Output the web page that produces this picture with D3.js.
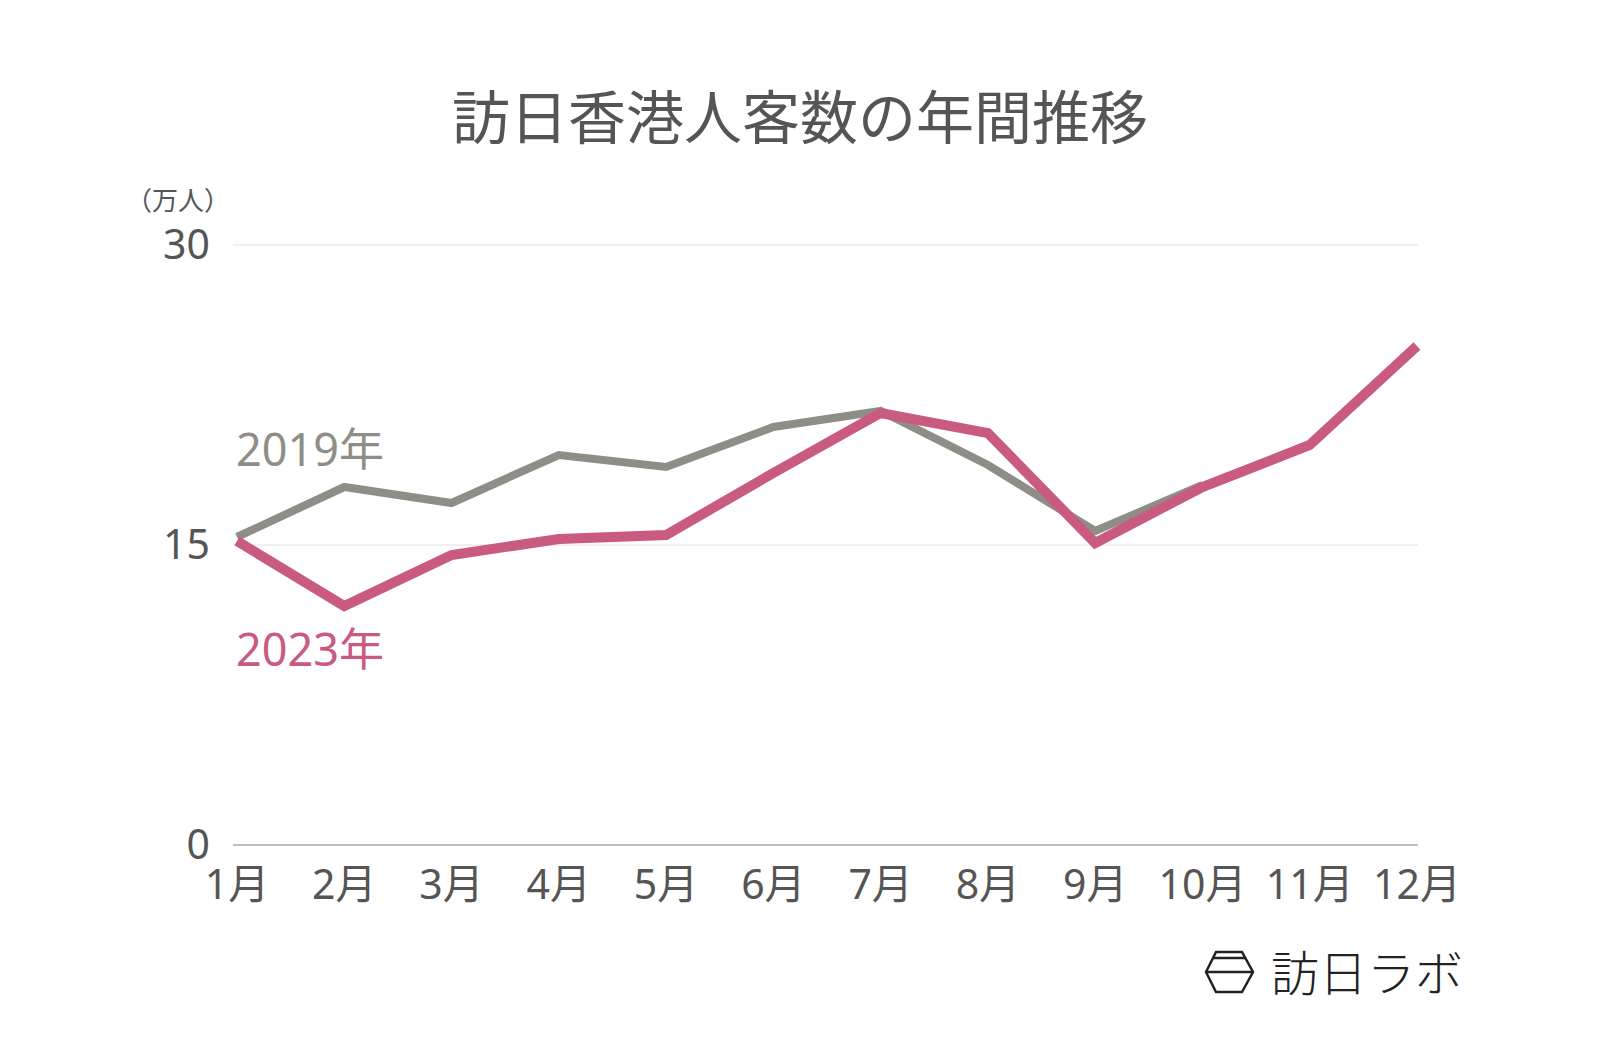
<!DOCTYPE html>
<html>
<head>
<meta charset="utf-8">
<script src="https://cdn.jsdelivr.net/npm/d3@7"></script>
<style>
  html, body { margin: 0; padding: 0; background: #fff; }
  svg { display: block; }
  text { font-family: "Noto Sans", "Noto Sans CJK JP", sans-serif; }
</style>
</head>
<body>
<script>
// data (万人)
const months = ['1月', '2月', '3月', '4月', '5月', '6月', '7月', '8月', '9月', '10月', '11月', '12月'];
const values2019 = [15.4, 17.9, 17.1, 19.5, 18.9, 20.9, 21.7, 19.0, 15.7, 18.0];
const values2023 = [15.2, 11.95, 14.5, 15.3, 15.5, 18.6, 21.6, 20.6, 15.1, 17.9, 20.0, 24.95];
const yTicks = [0, 15, 30];

const width = 1600,
    height = 1048;

const svg = d3.select('body').append('svg')
    .attr('width', width)
    .attr('height', height);

const x = d3.scalePoint()
    .domain(months)
    .range([237, 1417]);

const y = d3.scaleLinear()
    .domain([0, 30])
    .range([845, 245]);

// title
svg.append('text')
    .attr('x', 800)
    .attr('y', 139)
    .attr('text-anchor', 'middle')
    .style('font-family', '"Noto Sans CJK JP", sans-serif')
    .style('font-size', '58px')
    .style('font-weight', 400)
    .style('fill', '#555')
    .text('訪日香港人客数の年間推移');

// unit
svg.append('text')
    .attr('x', 178)
    .attr('y', 210)
    .attr('text-anchor', 'middle')
    .style('font-family', '"Noto Sans CJK JP", sans-serif')
    .style('font-size', '26px')
    .style('fill', '#555')
    .text('（万人）');

// grid
svg.append('g')
    .selectAll('line')
    .data(yTicks)
    .join('line')
    .attr('x1', 233)
    .attr('x2', 1418)
    .attr('y1', d => y(d))
    .attr('y2', d => y(d))
    .style('stroke', d => d === 0 ? '#aaa' : '#e0e0e0')
    .style('stroke-width', d => d === 0 ? 1.5 : 1);

svg.append('g')
    .selectAll('text')
    .data(yTicks)
    .join('text')
    .attr('x', 210)
    .attr('y', d => y(d) + 14)
    .attr('text-anchor', 'end')
    .style('font-size', '41px')
    .style('fill', '#555')
    .text(d => d);

// x labels
svg.append('g')
    .selectAll('text')
    .data(months)
    .join('text')
    .attr('x', d => x(d))
    .attr('y', 899)
    .attr('text-anchor', 'middle')
    .style('font-size', '41px')
    .style('fill', '#555')
    .text(d => d);

const line = d3.line()
    .x((d, i) => x(months[i]))
    .y(d => y(d));

svg.append('path')
    .datum(values2019)
    .attr('d', line)
    .style('fill', 'none')
    .style('stroke', '#8f8e86')
    .style('stroke-width', 8);

svg.append('path')
    .datum(values2023)
    .attr('d', line)
    .style('fill', 'none')
    .style('stroke', '#c95a80')
    .style('stroke-width', 10);

// series labels
svg.append('text')
    .attr('x', 236)
    .attr('y', 466)
    .style('font-size', '45px')
    .style('fill', '#8f8e86')
    .text('2019年');

svg.append('text')
    .attr('x', 236)
    .attr('y', 666)
    .style('font-size', '45px')
    .style('fill', '#c95a80')
    .text('2023年');

// logo
const logo = svg.append('g')
    .style('fill', 'none')
    .style('stroke', '#222')
    .style('stroke-width', 2.5);

logo.append('path')
    .attr('d', 'M1206,972 L1216,952 L1242,952 L1253,972 L1242,992 L1216,992 Z');
logo.append('path')
    .attr('d', 'M1213,958 L1245,958 M1206,972 L1253,972');

svg.append('text')
    .attr('x', 1271)
    .attr('y', 991)
    .style('font-family', '"Noto Sans CJK JP", sans-serif')
    .style('font-size', '48px')
    .style('font-weight', 300)
    .style('fill', '#222')
    .text('訪日ラボ');
</script>
</body>
</html>
